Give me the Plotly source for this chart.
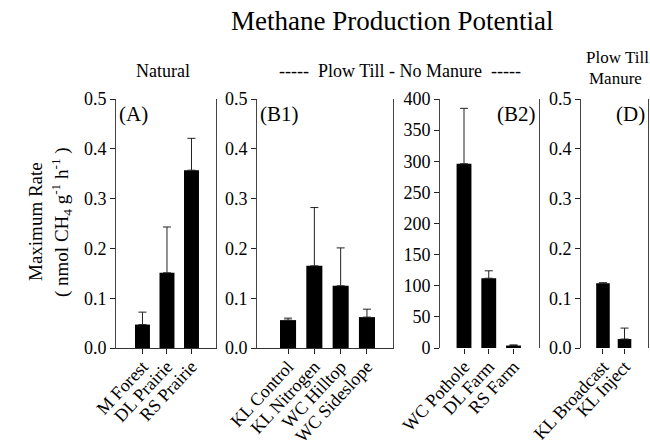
import plotly.graph_objects as go

# ---- data ----
cats_a = ["M Forest", "DL Prairie", "RS Prairie"]
vals_a = [0.047, 0.151, 0.357]
err_a = [0.025, 0.092, 0.064]

cats_b1 = ["KL Control", "KL Nitrogen", "WC Hilltop", "WC Sideslope"]
vals_b1 = [0.056, 0.165, 0.125, 0.062]
err_b1 = [0.004, 0.117, 0.076, 0.016]

cats_b2 = ["WC Pothole", "DL Farm", "RS Farm"]
vals_b2 = [296, 112, 4]
err_b2 = [89, 12, 1]

cats_d = ["KL Broadcast", "KL Inject"]
vals_d = [0.130, 0.018]
err_d = [0.001, 0.022]

W, H = 650, 448
FONT = "Liberation Serif"

def px_x(a, b):
    return [a / W, b / W]

ydom = [(H - 348) / H, (H - 99) / H]

panels = [
    (cats_a, vals_a, err_a, (116, 216), [-1.08, 3.0], [0, 0.5], 0.1, ".1f", "(A)", "left", 0.61, True),
    (cats_b1, vals_b1, err_b1, (257, 393), [-1.18, 3.99], [0, 0.5], 0.1, ".1f", "(B1)", "left", 0.61, True),
    (cats_b2, vals_b2, err_b2, (440, 539), [-0.97, 3.03], [0, 400], 50, "d", "(B2)", "right", 0.6, False),
    (cats_d, vals_d, err_d, (581, 648), [-1.02, 2.09], [0, 0.5], 0.1, ".1f", "(D)", "right", 0.63, False),
]

fig = go.Figure()
annotations = []
layout = {}
for i, (cats, vals, err, xd, xr, yr, dt, fmt, lab, lpos, bw, bline) in enumerate(panels):
    n = "" if i == 0 else str(i + 1)
    fig.add_trace(go.Bar(
        x=cats, y=vals, width=bw,
        marker=dict(color="black", line=dict(width=0)),
        error_y=dict(type="data", array=err, symmetric=False,
                     arrayminus=[0] * len(err),
                     color="#222", thickness=1, width=4),
        xaxis="x" + n, yaxis="y" + n, showlegend=False,
    ))
    layout["xaxis" + n] = dict(
        domain=px_x(*xd), anchor="y" + n, type="category", range=xr,
        tickmode="array", tickvals=cats, ticktext=cats,
        tickangle=-47, ticks="outside", ticklen=5, tickcolor="#222",
        ticklabelstandoff=-5,
        showline=bline, linecolor="#333", linewidth=1,
        showgrid=False, zeroline=False, automargin=False,
        tickfont=dict(family=FONT, size=18, color="black"),
    )
    layout["yaxis" + n] = dict(
        domain=ydom, anchor="x" + n, range=yr, dtick=dt, tickformat=fmt,
        ticks="outside", ticklen=5, tickcolor="#222",
        showline=True, mirror=True, linecolor="#444", linewidth=1,
        showgrid=False, zeroline=False, automargin=False,
        tickfont=dict(family=FONT, size=18, color="black"),
    )
    if lpos == "left":
        annotations.append(dict(text=lab, xref="paper", yref="paper",
                                x=(xd[0] + 1) / W, y=(H - 100) / H,
                                xanchor="left", yanchor="top", showarrow=False,
                                font=dict(family=FONT, size=21, color="black")))
    else:
        annotations.append(dict(text=lab, xref="paper", yref="paper",
                                x=(xd[1] - 1) / W, y=(H - 100) / H,
                                xanchor="right", yanchor="top", showarrow=False,
                                font=dict(family=FONT, size=21, color="black")))

def txt(t, x, y, size, angle=0):
    annotations.append(dict(text=t, xref="paper", yref="paper",
                            x=x / W, y=(H - y) / H, xanchor="center", yanchor="middle",
                            showarrow=False, textangle=angle,
                            font=dict(family=FONT, size=size, color="black")))

txt("Methane Production Potential", 392, 21, 27)
txt("Natural", 163, 71, 18)
txt("-----  Plow Till - No Manure  -----", 400, 71, 18)
txt("Plow Till", 617, 58, 17)
txt("Manure", 615, 78, 17)
txt("Maximum Rate", 35, 222, 19, -90)
txt("( nmol CH<sub>4</sub> g<sup>-1</sup> h<sup>-1</sup> )", 61, 222, 19, -90)

fig.update_layout(
    width=W, height=H,
    margin=dict(l=0, r=0, t=0, b=0, pad=0, autoexpand=False),
    paper_bgcolor="white", plot_bgcolor="white",
    annotations=annotations,
    bargap=0.3,
    **layout,
)

fig.write_html("out.html")
